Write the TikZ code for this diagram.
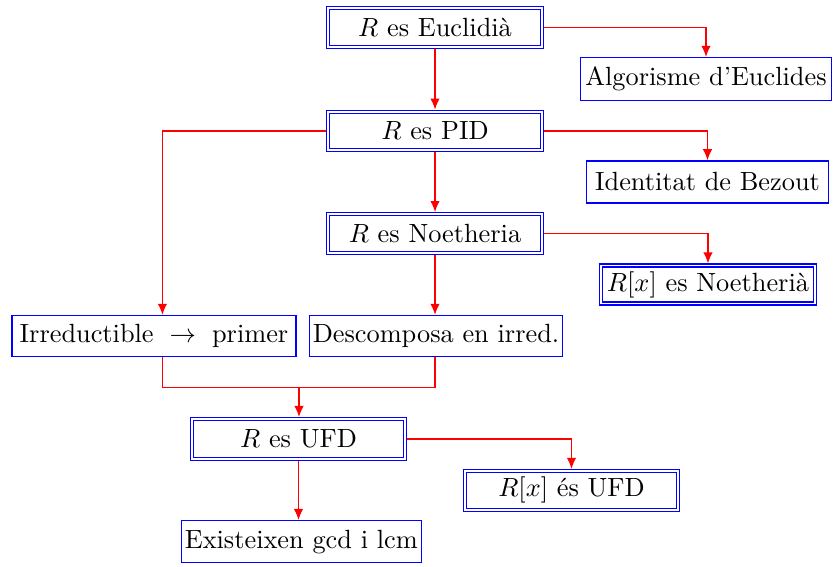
\documentclass[tikz,border=0pt]{standalone}
\usetikzlibrary{arrows.meta,calc}
\begin{document}
\begin{tikzpicture}[x=0.38pt,y=-0.38pt,
  box/.style={draw=blue,line width=0.5pt,inner sep=0pt,minimum height=16pt},
  dbox/.style={draw=blue,double,double distance=0.7pt,line width=0.45pt,inner sep=0pt,outer sep=0.8pt,minimum width=81.2pt,minimum height=14.7pt},
  conn/.style={draw=red,line width=0.5pt,-{Latex[length=4.2pt,width=3.6pt]}},
  link/.style={draw=red,line width=0.5pt}]
\useasboundingbox (0,0) rectangle (833,566);

\node[dbox] (eu) at (435,27.5) {$R$ es Euclidià};
\node[box,minimum width=95.4pt,minimum height=16.3pt] (alg) at (706,79) {Algorisme d'Euclides};
\node[dbox] (pid) at (435,131) {$R$ es PID};
\node[box,minimum width=92pt,minimum height=16pt] (bez) at (707.5,182) {Identitat de Bezout};
\node[dbox] (noe) at (435,233.5) {$R$ es Noetheria};
\node[dbox,minimum width=81.6pt,minimum height=14.4pt] (rxn) at (708,284.5) {$R[x]$ es Noetherià};
\node[box,minimum width=107.9pt,minimum height=15.6pt] (irr) at (154,336) {Irreductible $\;\rightarrow\;$ primer};
\node[box,minimum width=96.1pt,minimum height=15.6pt] (des) at (436,336) {Descomposa en irred.};
\node[dbox,minimum height=15.1pt] (ufd) at (298.5,439) {$R$ es UFD};
\node[dbox] (rxu) at (571.5,490.3) {$R[x]$ és UFD};
\node[box,minimum width=91.2pt,minimum height=16pt] (exi) at (301.3,541.7) {Existeixen gcd i lcm};

\draw[conn] (eu.east) -| (alg.north);
\draw[conn] (eu.south) -- (pid.north);
\draw[conn] (pid.west) -| ([xshift=3.2pt]irr.north);
\draw[conn] (pid.east) -| (bez.north);
\draw[conn] (pid.south) -- (noe.north);
\draw[conn] (noe.east) -| (rxn.north);
\draw[conn] (noe.south) -- (noe.south |- des.north);
\coordinate (mid) at (299,387.5);
\draw[link] ([xshift=3.2pt]irr.south) |- (mid) -| (noe.south |- des.south);
\draw[conn] (mid) -- (mid |- ufd.north);
\draw[conn] (ufd.east) -| (rxu.north);
\draw[conn] (ufd.south) -- (ufd.south |- exi.north);
\end{tikzpicture}
\end{document}
